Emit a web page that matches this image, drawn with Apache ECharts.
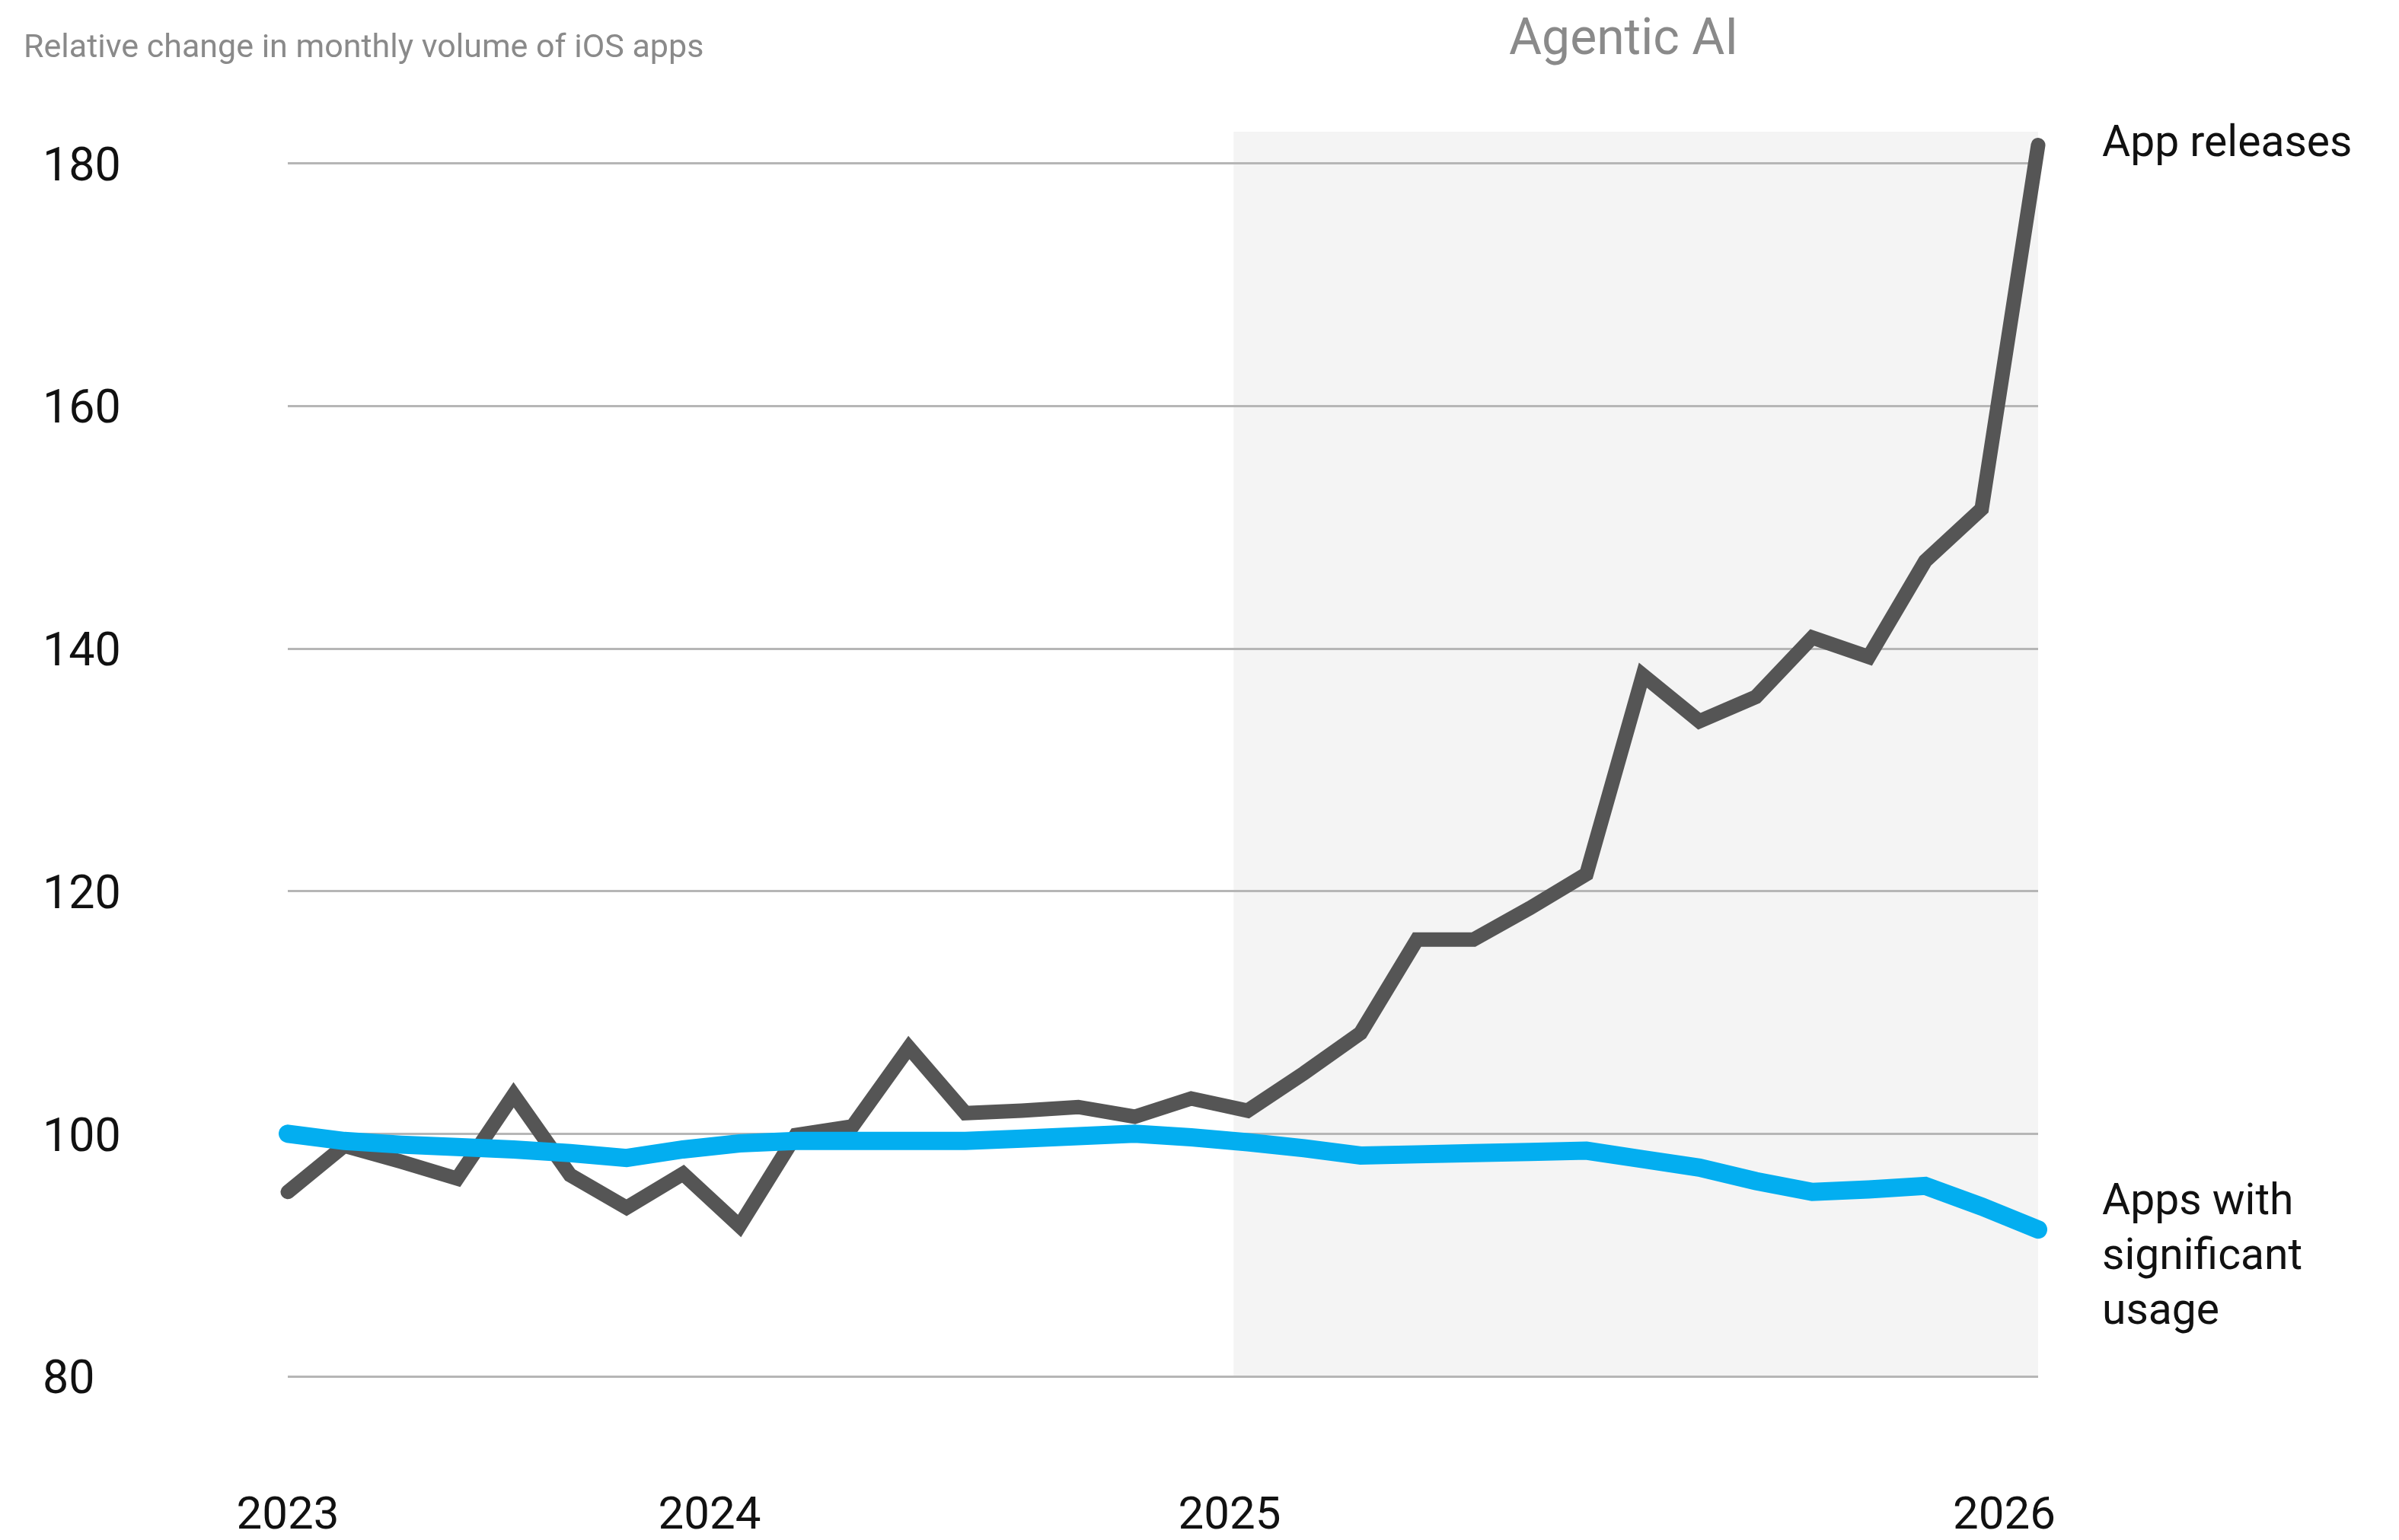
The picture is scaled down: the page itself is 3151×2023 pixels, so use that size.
<!DOCTYPE html>
<html>
<head>
<meta charset="utf-8">
<script src="https://cdn.jsdelivr.net/npm/echarts@6/dist/echarts.min.js"></script>
<style>
  html, body { margin: 0; padding: 0; background: #ffffff; }
  #chart { width: 3151px; height: 2023px; }
</style>
</head>
<body>
<div id="chart"></div>
<script>
// ---- Data ----
const subtitle = 'Relative change in monthly volume of iOS apps';
const seriesNames = ['App releases', 'Apps with\nsignificant\nusage'];
const appReleases = [95.2, 99.0, 97.7, 96.3, 103.2, 96.6, 93.9, 96.7, 92.4, 99.9, 100.6, 107.1, 101.7, 101.9, 102.2, 101.4,
                     102.9, 101.9, 105.0, 108.3, 116.0, 116.0, 118.6, 121.4, 137.8, 134.0, 136.0, 140.9, 139.3, 147.2, 151.5, 181.5];
const significantUsage = [100.0, 99.4, 99.1, 98.9, 98.7, 98.4, 98.0, 98.7, 99.2, 99.4, 99.4, 99.4, 99.4, 99.6, 99.8, 100.0,
                          99.7, 99.3, 98.8, 98.2, 98.3, 98.4, 98.5, 98.6, 97.9, 97.2, 96.1, 95.2, 95.4, 95.7, 94.0, 92.1];
const yearTickPositions = [0, 7.47, 16.68, 30.4];
const yearTickLabels = ['2023', '2024', '2025', '2026'];
const yTicks = [80, 100, 120, 140, 160, 180];
const agenticLabel = 'Agentic AI';
const agenticStart = 16.75;
const agenticEnd = 31;
const agenticTop = 182.6;

// ---- Build ----
const toPairs = arr => arr.map((v, i) => [i, v]);
const lastIndex = appReleases.length - 1;
const FONT = 'Roboto, "Noto Sans", sans-serif';

const chart = echarts.init(document.getElementById('chart'), null, { renderer: 'canvas' });
chart.setOption({
  animation: false,
  backgroundColor: '#ffffff',
  title: {
    text: subtitle,
    left: 26,
    top: 38,
    textStyle: { fontFamily: FONT, fontSize: 43, fontWeight: 'normal', color: '#8a8a8a' }
  },
  grid: { left: 378, right: 474, top: 173, bottom: 208 },
  xAxis: {
    type: 'value',
    min: 0,
    max: lastIndex,
    axisLine: { show: false },
    axisTick: { show: false },
    splitLine: { show: false },
    axisLabel: {
      customValues: yearTickPositions,
      formatter: v => {
        const idx = yearTickPositions.findIndex(p => Math.abs(p - v) < 1e-6);
        return idx >= 0 ? yearTickLabels[idx] : '';
      },
      fontFamily: FONT,
      fontSize: 60,
      color: '#111111',
      verticalAlign: 'middle',
      margin: 185
    }
  },
  yAxis: {
    type: 'value',
    min: yTicks[0],
    max: agenticTop,
    axisLine: { show: false },
    axisTick: { show: false },
    splitLine: { show: false },
    axisLabel: {
      customValues: yTicks,
      fontFamily: FONT,
      fontSize: 61,
      color: '#111111',
      align: 'left',
      verticalAlign: 'top',
      lineHeight: 14,
      margin: 322
    }
  },
  series: [
    {
      name: 'App releases',
      type: 'line',
      data: toPairs(appReleases),
      clip: false,
      showSymbol: false,
      symbol: 'none',
      lineStyle: { color: '#555555', width: 19, cap: 'round', join: 'miter' },
      itemStyle: { color: '#555555' },
      endLabel: {
        show: true,
        formatter: () => seriesNames[0],
        fontFamily: FONT,
        fontSize: 57,
        color: '#111111',
        distance: 84,
        offset: [0, 0]
      },
      markArea: {
        silent: true,
        z: 1,
        itemStyle: { color: 'rgba(0,0,0,0.045)' },
        label: {
          show: true,
          position: 'top',
          distance: 86,
          offset: [-16, 0],
          fontFamily: FONT,
          fontSize: 66,
          color: '#8a8a8a'
        },
        data: [[
          { name: agenticLabel, xAxis: agenticStart, yAxis: agenticTop },
          { xAxis: agenticEnd, yAxis: yTicks[0] }
        ]]
      },
      markLine: {
        silent: true,
        z: 1.5,
        symbol: ['none', 'none'],
        label: { show: false },
        lineStyle: { color: '#b6b6b6', width: 3, type: 'solid' },
        data: yTicks.map(v => [{ coord: [0, v] }, { coord: [lastIndex, v] }])
      },
      z: 2
    },
    {
      name: 'Apps with significant usage',
      type: 'line',
      data: toPairs(significantUsage),
      clip: false,
      showSymbol: false,
      symbol: 'none',
      lineStyle: { color: '#03aef0', width: 24, cap: 'round', join: 'miter' },
      itemStyle: { color: '#03aef0' },
      endLabel: {
        show: true,
        formatter: () => seriesNames[1],
        fontFamily: FONT,
        fontSize: 57,
        lineHeight: 72,
        color: '#111111',
        distance: 84,
        offset: [0, 38]
      },
      z: 3
    }
  ]
});
</script>
</body>
</html>
